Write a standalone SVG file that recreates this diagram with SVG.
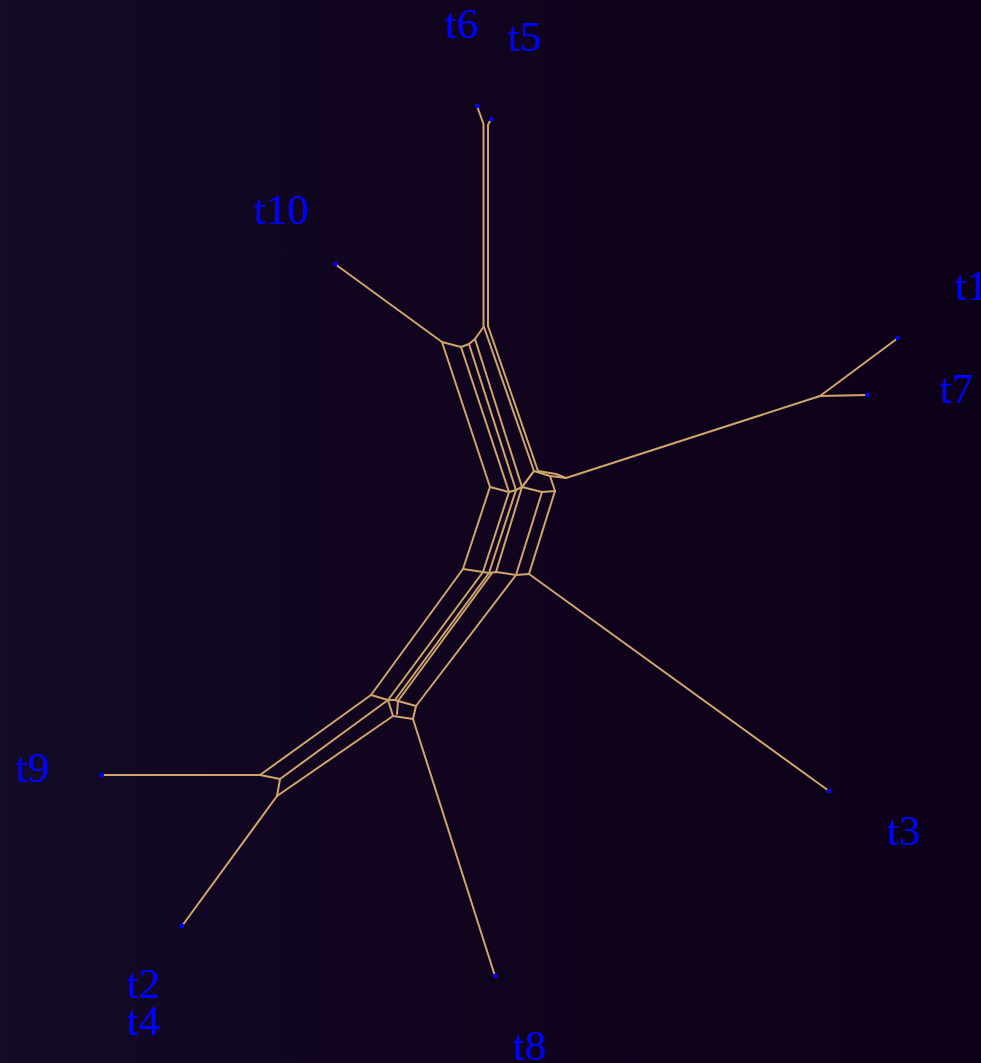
<svg xmlns="http://www.w3.org/2000/svg" width="981" height="1063" viewBox="0 0 981 1063">
<defs>
<linearGradient id="bg" x1="0" y1="0" x2="1" y2="0">
<stop offset="0" stop-color="#130b28"/>
<stop offset="0.35" stop-color="#11051f"/>
<stop offset="1" stop-color="#0d0019"/>
</linearGradient>
<style>
.e{stroke:#cfa56c;stroke-width:2;fill:none;stroke-linejoin:round;stroke-linecap:round}
.leaf{fill:#0000ff}
.lbl{font-family:"Liberation Serif","Times New Roman",serif;font-size:43px;fill:#0000ff}
</style>
</defs>
<rect width="981" height="1063" fill="url(#bg)"/>
<g id="edges" class="e">
<path d="M477,106 L483.5,124 L483.5,326"/>
<path d="M491,119 L488,125 L488,326"/>
<path d="M335,264 L442,342"/>
<path d="M442,342 L461,347 L469,344 L475,339 L483.5,327"/>
<path d="M442,342 L490,487"/>
<path d="M461,347 L509,492"/>
<path d="M469,344 L516,490"/>
<path d="M475,339 L522,487"/>
<path d="M484,327 L534,471"/>
<path d="M488,326 L538,471"/>
<path d="M490,487 L509,492 L516,490 L522,487 L534,471"/>
<path d="M534,471 L550,476 L566,478"/>
<path d="M538,471 L556,474 L566,478"/>
<path d="M522,487 L542,492 L555,491 L550,476"/>
<path d="M534,471 L522,487"/>
<path d="M566,478 L820,396"/>
<path d="M820,396 L898,338"/>
<path d="M820,396 L867,395"/>
<path d="M490,487 L463,569"/>
<path d="M509,492 L483,572"/>
<path d="M516,490 L489,573"/>
<path d="M522,487 L496,572"/>
<path d="M542,492 L516,575"/>
<path d="M555,491 L529,574"/>
<path d="M463,569 L483,572 L489,573 L496,572 L516,575 L529,574"/>
<path d="M529,574 L829,791"/>
<path d="M463,569 L371,695"/>
<path d="M483,572 L388,700"/>
<path d="M489,573 L395,700"/>
<path d="M492,573 L398,701"/>
<path d="M516,575 L416,706"/>
<path d="M371,695 L388,700 L395,700 L398,701 L416,706 L413,719 L393,716 L388,700"/>
<path d="M398,701 L397,714"/>
<path d="M413,719 L495,976"/>
<path d="M371,695 L260,775"/>
<path d="M388,700 L280,779"/>
<path d="M393,716 L277,796"/>
<path d="M260,775 L280,779 L277,796"/>
<path d="M260,775 L102,775"/>
<path d="M277,796 L182,926"/>
</g>
<g id="leaves">
<g id="n-t6"><rect class="leaf" x="475" y="104" width="4" height="4"/><text class="lbl" x="445" y="38">t6</text></g>
<g id="n-t5"><rect class="leaf" x="489" y="117" width="4" height="4"/><text class="lbl" x="508" y="51">t5</text></g>
<g id="n-t10"><rect class="leaf" x="333" y="262" width="4" height="4"/><text class="lbl" x="254" y="224">t10</text></g>
<g id="n-t1"><rect class="leaf" x="896" y="336" width="4" height="4"/><text class="lbl" x="955" y="300">t1</text></g>
<g id="n-t7"><rect class="leaf" x="865" y="393" width="4" height="4"/><text class="lbl" x="940" y="403">t7</text></g>
<g id="n-t3"><rect class="leaf" x="827" y="789" width="4" height="4"/><text class="lbl" x="887" y="845">t3</text></g>
<g id="n-t8"><rect class="leaf" x="493" y="974" width="4" height="4"/><text class="lbl" x="513" y="1060">t8</text></g>
<g id="n-t2"><rect class="leaf" x="180" y="924" width="4" height="4"/><text class="lbl" x="127" y="998">t2</text></g>
<g id="n-t4"><text class="lbl" x="127" y="1035">t4</text></g>
<g id="n-t9"><rect class="leaf" x="100" y="773" width="4" height="4"/><text class="lbl" x="16" y="782">t9</text></g>
</g>
</svg>
